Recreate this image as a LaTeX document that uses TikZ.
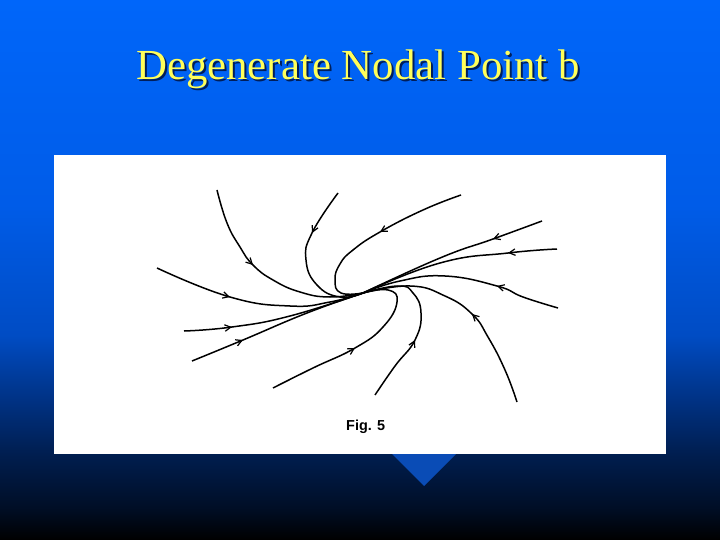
\documentclass[tikz,border=0pt]{standalone}
\usepackage{fontspec}
\setmainfont{Liberation Serif}
\newfontfamily\figfont{Liberation Sans}
\usetikzlibrary{arrows.meta,calc}

\definecolor{slidetop}{RGB}{0,102,250}
\definecolor{slideblue}{RGB}{0,92,232}
\definecolor{slidemid}{RGB}{0,76,196}
\definecolor{slidedeep}{RGB}{0,50,132}
\definecolor{slidedark}{RGB}{0,30,80}
\definecolor{slidenight}{RGB}{0,14,38}
\definecolor{titleyellow}{RGB}{255,255,90}
\definecolor{titleshade}{RGB}{0,30,90}
\definecolor{wedgeblue}{RGB}{10,76,182}

\pgfdeclareverticalshading{slideshade}{100bp}{color(0bp)=(black); color(25bp)=(black); color(28bp)=(slidenight); color(33bp)=(slidedark); color(38bp)=(slidedeep); color(44bp)=(slidemid); color(56bp)=(slideblue); color(75bp)=(slidetop); color(100bp)=(slidetop)}

\begin{document}
\begin{tikzpicture}[x=1bp,y=-1bp,
  trajectory/.style={line width=1.5bp},
  flowtip/.style={line width=1.2bp,-{Straight Barb[length=6bp,width=6.5bp]}},
  titletext/.style={anchor=base,font=\fontsize{43}{48}\selectfont}]
\useasboundingbox (0,0) rectangle (720,540);
\shade[shading=slideshade] (0,0) rectangle (720,540);
\fill[wedgeblue] (380,442) -- (468,442) -- (424,486) -- cycle;
\fill[white] (54,155) rectangle (666,454);
\node[titletext,text=titleshade] (titleshadow) at (360,82) {Degenerate Nodal Point b};
\node[titletext,text=titleyellow] (title) at (358,80) {Degenerate Nodal Point b};
\node[anchor=base west,inner sep=0,font=\figfont\bfseries\fontsize{14.5}{16}\selectfont] (figlabel) at (346,430) {Fig. 5};
% trajectories coming in from the left
\draw[trajectory] plot[smooth,tension=0.8] coordinates {(217,190) (227,223) (240,247) (253,265) (273,280) (300,292) (330,297) (363,293)};
\draw[trajectory] plot[smooth,tension=0.8] coordinates {(338,193) (312,233) (306,260) (317,285) (340,297) (363,293)};
\draw[trajectory] plot[smooth,tension=0.8] coordinates {(461,195) (423,210) (380,232) (353,250) (340,264) (335,280) (341,293) (363,293)};
\draw[trajectory] plot[smooth,tension=0.8] coordinates {(157,268) (230,297) (290,306) (330,302) (363,293)};
\draw[trajectory] plot[smooth,tension=0.8] coordinates {(184,331) (232,327) (290,316) (363,293)};
\draw[trajectory] plot[smooth,tension=0.8] coordinates {(192,361) (243,340) (307,313) (363,293)};
\draw[flowtip] ($(253,265)+0.04*(240,247)-0.04*(273,280)$) -- (253,265);
\draw[flowtip] ($(312,233)+0.04*(338,193)-0.04*(306,260)$) -- (312,233);
\draw[flowtip] ($(380,232)+0.04*(423,210)-0.04*(353,250)$) -- (380,232);
\draw[flowtip] ($(230,297)+0.04*(157,268)-0.04*(290,306)$) -- (230,297);
\draw[flowtip] ($(232,327)+0.04*(184,331)-0.04*(290,316)$) -- (232,327);
\draw[flowtip] ($(243,340)+0.04*(192,361)-0.04*(307,313)$) -- (243,340);
% trajectories coming in from the right
\draw[trajectory] plot[smooth,tension=0.8] coordinates {(273,388) (313,368) (355,348) (383,327) (397,302) (388,290) (363,293)};
\draw[trajectory] plot[smooth,tension=0.8] coordinates {(375,395) (395,366) (415,340) (421,313) (413,293) (398,286) (363,293)};
\draw[trajectory] plot[smooth,tension=0.8] coordinates {(517,402) (505,370) (488,337) (472,314) (445,296) (410,286) (363,293)};
\draw[trajectory] plot[smooth,tension=0.8] coordinates {(558,308) (523,297) (497,286) (445,276) (400,281) (363,293)};
\draw[trajectory] plot[smooth,tension=0.8] coordinates {(557,249) (508,253) (440,263) (363,293)};
\draw[trajectory] plot[smooth,tension=0.8] coordinates {(542,221) (493,239) (440,258) (363,293)};
\draw[flowtip] ($(355,348)+0.04*(313,368)-0.04*(383,327)$) -- (355,348);
\draw[flowtip] ($(415,340)+0.04*(395,366)-0.04*(421,313)$) -- (415,340);
\draw[flowtip] ($(472,314)+0.04*(488,337)-0.04*(445,296)$) -- (472,314);
\draw[flowtip] ($(497,286)+0.04*(523,297)-0.04*(445,276)$) -- (497,286);
\draw[flowtip] ($(508,253)+0.04*(557,249)-0.04*(440,263)$) -- (508,253);
\draw[flowtip] ($(493,239)+0.04*(542,221)-0.04*(440,258)$) -- (493,239);
\end{tikzpicture}
\end{document}
